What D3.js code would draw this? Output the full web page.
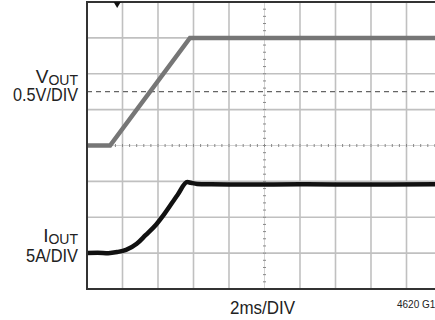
<!DOCTYPE html>
<html>
<head>
    <title>VOUT / IOUT start-up</title>
</head>
<meta charset="utf-8">
<style type="text/css">
    html, body {
        margin: 0;
        background: #fff;
    }

    svg {
        display: block;
        font-family: "Liberation Sans", Arial, sans-serif;
    }

    .grid line {
        stroke: #c0c0c0;
        stroke-width: 1.6;
    }

    .frame {
        stroke: #333;
        stroke-width: 2;
        fill: none;
    }
</style>

<body>
<svg id="wrapper" width="435" height="320"></svg>

<script type="text/javascript" src="https://d3js.org/d3.v7.min.js"></script>

<script>
    "use strict";

    // time axis, ms (2ms/DIV, 10 divisions)
    const timeDomain = [0, 20];
    const divisionsY = 8;

    // VOUT trace (V), 0.5V/DIV, ground on 4th division
    const voutTime = [0, 1.3, 5.8, 20];
    const voutValues = [0, 0, 1.5, 1.5];

    // IOUT trace (A), 5A/DIV, ground on 1st division
    const ioutTime = [0, 0.6, 1.2, 1.7, 2.2, 2.8, 3.3, 3.9, 4.4, 5.1, 5.65, 5.85, 6.2, 7, 9, 12, 16, 20];
    const ioutValues = [0, 0.05, 0, 0.15, 0.45, 1.3, 2.5, 4.0, 5.6, 8.1, 9.9, 9.8, 9.65, 9.6, 9.55, 9.6, 9.55, 9.6];

    // reference level marker (divisions) and trigger time (ms)
    const refLevelDiv = 5.5;
    const triggerTime = 1.7;

    const svg = d3.select("svg"),
        plotLeft = 87,
        plotRight = 442,
        plotTop = 2,
        plotBottom = 289,
        x = d3.scaleLinear().domain(timeDomain).range([plotLeft, plotRight]),
        yDiv = d3.scaleLinear().domain([0, divisionsY]).range([plotBottom, plotTop]),
        yV = d3.scaleLinear().domain([-2, 2]).range([plotBottom, plotTop]),
        yI = d3.scaleLinear().domain([-5, 35]).range([plotBottom, plotTop]);

    // Grid
    const grid = svg.append("g").attr("class", "grid");
    grid.selectAll(".v")
        .data(d3.range(2, 20, 2).filter(t => t !== 10))
        .join("line")
        .attr("x1", d => x(d)).attr("x2", d => x(d))
        .attr("y1", plotTop).attr("y2", plotBottom);
    grid.selectAll(".h")
        .data(d3.range(1, divisionsY).filter(d => d !== 4))
        .join("line")
        .attr("x1", plotLeft).attr("x2", plotRight)
        .attr("y1", d => yDiv(d)).attr("y2", d => yDiv(d));

    // Center lines with minor ticks
    const center = svg.append("g");
    center.append("line")
        .attr("x1", x(10)).attr("x2", x(10))
        .attr("y1", plotTop).attr("y2", plotBottom)
        .attr("stroke", "#d4d4d4").attr("stroke-width", 1);
    center.append("line")
        .attr("x1", plotLeft).attr("x2", plotRight)
        .attr("y1", yDiv(4)).attr("y2", yDiv(4))
        .attr("stroke", "#d4d4d4").attr("stroke-width", 1);
    center.selectAll(".tx")
        .data(d3.range(0, 20.01, 0.4))
        .join("line")
        .attr("x1", d => x(d)).attr("x2", d => x(d))
        .attr("y1", yDiv(4) - 1.5).attr("y2", yDiv(4) + 1.5)
        .attr("stroke", "#888").attr("stroke-width", 1);
    center.selectAll(".ty")
        .data(d3.range(0, divisionsY + 0.01, 0.2))
        .join("line")
        .attr("x1", x(10) - 1.5).attr("x2", x(10) + 1.5)
        .attr("y1", d => yDiv(d)).attr("y2", d => yDiv(d))
        .attr("stroke", "#888").attr("stroke-width", 1);

    // Reference level (dashed)
    svg.append("line")
        .attr("x1", plotLeft).attr("x2", plotRight)
        .attr("y1", yDiv(refLevelDiv)).attr("y2", yDiv(refLevelDiv))
        .attr("stroke", "#666").attr("stroke-width", 1.2)
        .attr("stroke-dasharray", "5,4");

    // Traces
    const voutLine = d3.line()
        .x(d => x(d[0]))
        .y(d => yV(d[1]));
    svg.append("path")
        .datum(d3.zip(voutTime, voutValues))
        .attr("d", voutLine)
        .attr("fill", "none")
        .attr("stroke", "#767676")
        .attr("stroke-width", 4.5);

    const ioutLine = d3.line()
        .x(d => x(d[0]))
        .y(d => yI(d[1]))
        .curve(d3.curveMonotoneX);
    svg.append("path")
        .datum(d3.zip(ioutTime, ioutValues))
        .attr("d", ioutLine)
        .attr("fill", "none")
        .attr("stroke", "#111")
        .attr("stroke-width", 4.5);

    // Frame (left, top, bottom)
    svg.append("path")
        .attr("class", "frame")
        .attr("d", `M${plotRight},${plotTop}H${plotLeft}V${plotBottom}H${plotRight}`);

    // Trigger marker
    svg.append("path")
        .attr("d", d3.symbol().type(d3.symbolTriangle).size(22))
        .attr("transform", `translate(${x(triggerTime)},${plotTop + 2}) rotate(180)`)
        .attr("fill", "#111");

    // Labels (condensed look via textLength)
    const labels = svg.append("g").attr("fill", "#222").attr("text-anchor", "end");

    const vLabel = labels.append("text").attr("x", 78).attr("y", 83).attr("font-size", 19);
    vLabel.append("tspan").text("V");
    vLabel.append("tspan").attr("font-size", 14).attr("dy", 2).text("OUT");
    labels.append("text").attr("x", 78).attr("y", 101).attr("font-size", 18)
        .attr("textLength", 65).attr("lengthAdjust", "spacingAndGlyphs")
        .text("0.5V/DIV");

    const iLabel = labels.append("text").attr("x", 78).attr("y", 242).attr("font-size", 19);
    iLabel.append("tspan").text("I");
    iLabel.append("tspan").attr("font-size", 14).attr("dy", 2).text("OUT");
    labels.append("text").attr("x", 78).attr("y", 262).attr("font-size", 18)
        .attr("textLength", 52).attr("lengthAdjust", "spacingAndGlyphs")
        .text("5A/DIV");

    svg.append("text")
        .attr("x", 230).attr("y", 314)
        .attr("font-size", 19)
        .attr("textLength", 65).attr("lengthAdjust", "spacingAndGlyphs")
        .attr("fill", "#222")
        .text("2ms/DIV");

    svg.append("text")
        .attr("x", 397).attr("y", 308)
        .attr("font-size", 10)
        .attr("fill", "#222")
        .text("4620 G11");
</script>
</body>
</html>
